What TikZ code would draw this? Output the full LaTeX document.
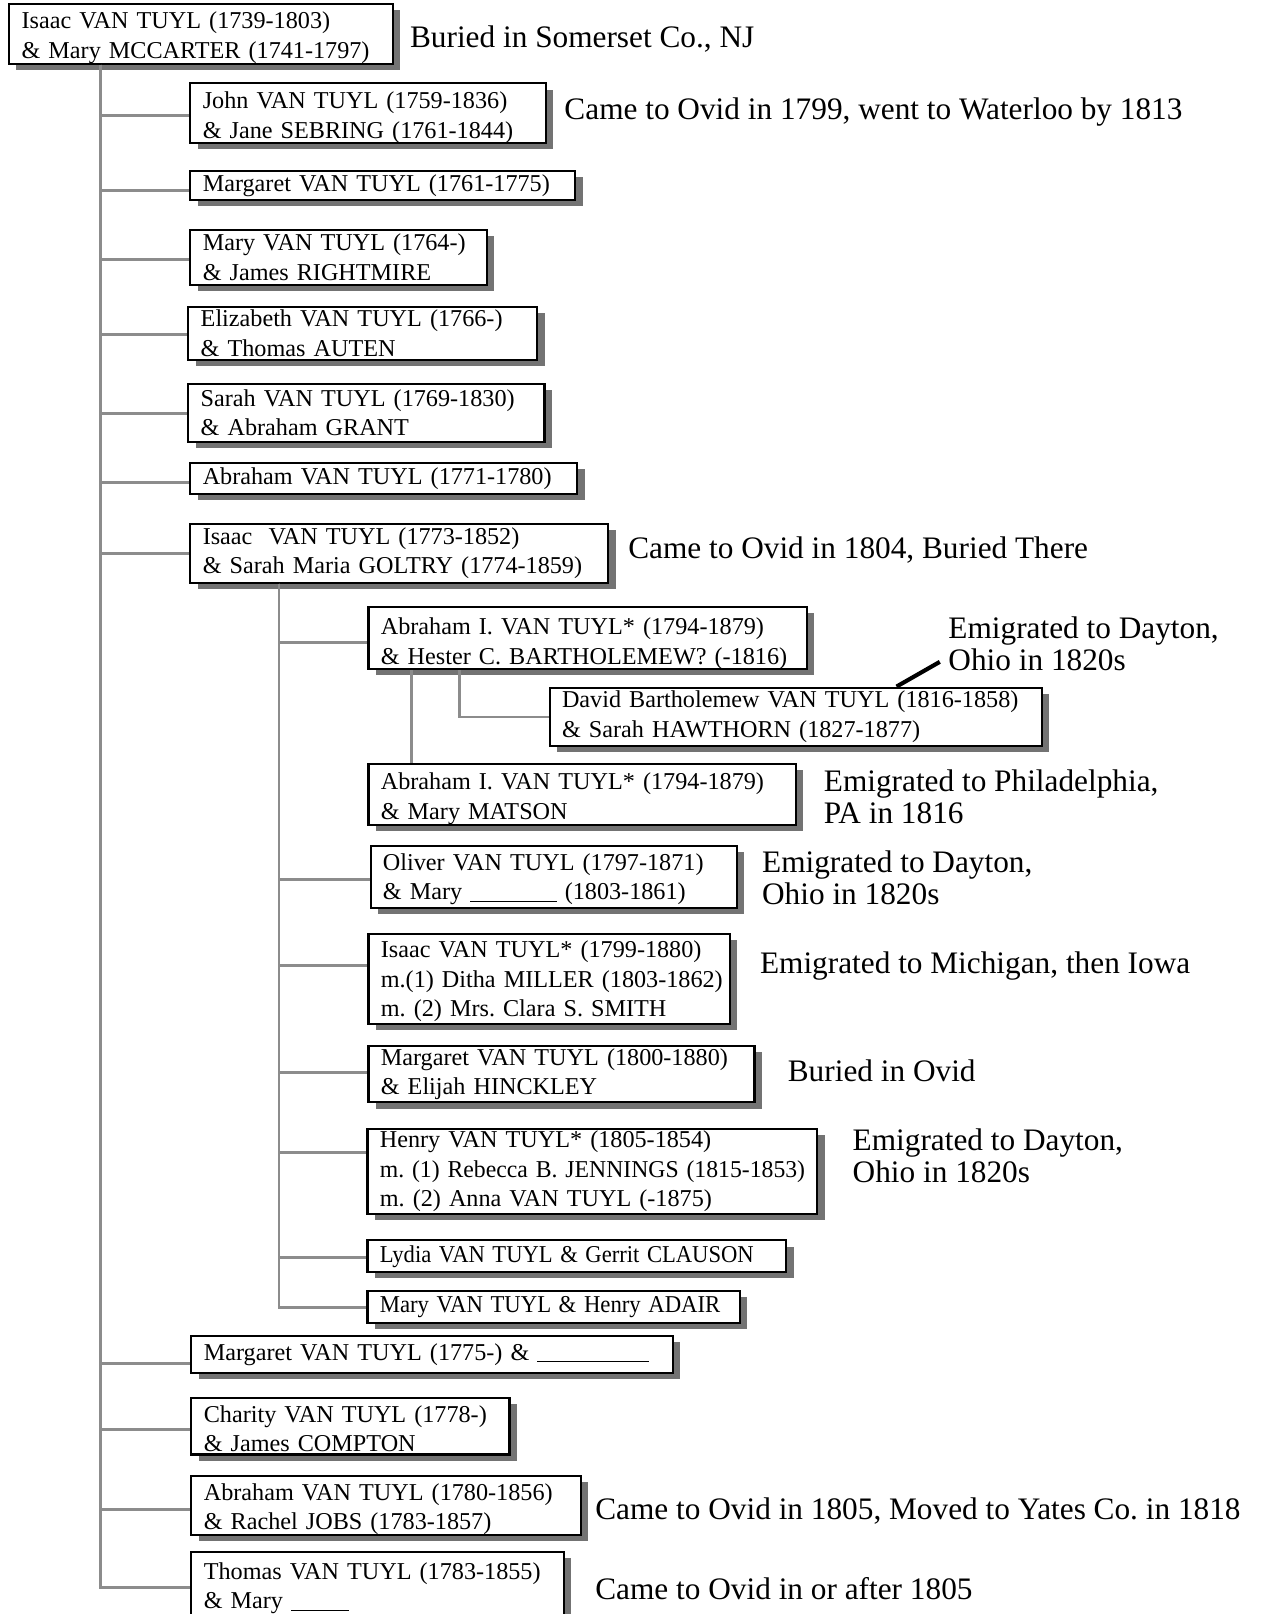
\documentclass[tikz,border=0pt]{standalone}
\usepackage{fontspec}
\usepackage{graphicx}
\setmainfont{Liberation Serif}
\usetikzlibrary{shadows}
\begin{document}
\frenchspacing
\begin{tikzpicture}[x=0.5pt,y=-0.5pt,
 box/.style={draw=black,line width=1pt,fill=white,anchor=north west,inner xsep=6pt,inner ysep=0pt,align=left,
   font=\fontsize{11.75}{14.4}\selectfont,
   drop shadow={shadow xshift=3.5pt,shadow yshift=-3pt,fill=black!55,opacity=1}},
 tshift/.style={execute at begin node={\rule{0pt}{#1}}},
 conn/.style={draw=black!45,line width=1.4pt},
 lab/.style={anchor=west,inner sep=0pt,align=left,font=\fontsize{15.2}{15.5}\selectfont},
 pointer/.style={draw=black,line width=2pt}]
\useasboundingbox (0,0) rectangle (1225,1568);
\fill[white] (0,0) rectangle (1225,1568);
\clip (0,0) rectangle (1225,1568);

% boxes
\node[box,tshift=11.7pt,text width=174.5pt,minimum height=29pt] (root) at (8,3) {\mbox{Isaac VAN TUYL (1739-1803)}\\\mbox{\& Mary MCCARTER (1741-1797)}};
\node[box,tshift=12.2pt,text width=160.5pt,minimum height=28.5pt] (john) at (184,80) {\mbox{John VAN TUYL (1759-1836)}\\\mbox{\& Jane SEBRING (1761-1844)}};
\node[box,text width=175pt,minimum height=14pt] (m1761) at (184,165) {\mbox{Margaret VAN TUYL (1761-1775)}};
\node[box,text width=132pt,minimum height=27pt] (m1764) at (184,222) {\mbox{Mary VAN TUYL (1764-)}\\\mbox{\& James RIGHTMIRE}};
\node[box,text width=157.5pt,minimum height=26pt] (eliz) at (182,297) {\mbox{Elizabeth VAN TUYL (1766-)}\\\mbox{\& Thomas AUTEN}};
\node[box,text width=161pt,minimum height=28pt] (sarah) at (182,372) {\mbox{Sarah VAN TUYL (1769-1830)}\\\mbox{\& Abraham GRANT}};
\node[box,text width=176pt,minimum height=15pt] (a1771) at (184,449) {\mbox{Abraham VAN TUYL (1771-1780)}};
\node[box,text width=191pt,minimum height=28.5pt] (i1773) at (184,508) {\mbox{Isaac\ \ VAN TUYL (1773-1852)}\\\mbox{\& Sarah Maria GOLTRY (1774-1859)}};
\node[box,tshift=13.2pt,text width=201pt,minimum height=29pt] (hester) at (357,589) {\mbox{Abraham I. VAN TUYL* (1794-1879)}\\\mbox{\& Hester C. BARTHOLEMEW? (-1816)}};
\node[box,text width=227pt,minimum height=28.5pt] (david) at (533,667) {\mbox{David Bartholemew VAN TUYL (1816-1858)}\\\mbox{\& Sarah HAWTHORN (1827-1877)}};
\node[box,tshift=12.7pt,text width=195.5pt,minimum height=27pt] (matson) at (357,741) {\mbox{Abraham I. VAN TUYL* (1794-1879)}\\\mbox{\& Mary MATSON}};
\node[box,tshift=10.2pt,text width=166pt,minimum height=30pt] (oliver) at (359,821) {\mbox{Oliver VAN TUYL (1797-1871)}\\\mbox{\& Mary \rule[-1pt]{42pt}{0.6pt} (1803-1861)}};
\node[box,tshift=10.7pt,text width=163.5pt,minimum height=44pt] (i1799) at (357,906) {\mbox{Isaac VAN TUYL* (1799-1880)}\\\mbox{m.(1) Ditha MILLER (1803-1862)}\\\mbox{m. (2) Mrs. Clara S. SMITH}};
\node[box,text width=175.5pt,minimum height=27.5pt] (m1800) at (357,1015) {\mbox{Margaret VAN TUYL (1800-1880)}\\\mbox{\& Elijah HINCKLEY}};
\node[box,text width=206.5pt,minimum height=41pt] (henry) at (356,1096) {\mbox{Henry VAN TUYL* (1805-1854)}\\\mbox{\scalebox{0.98}[1]{m. (1) Rebecca B. JENNINGS (1815-1853)}}\\\mbox{m. (2) Anna VAN TUYL (-1875)}};
\node[box,text width=191.5pt,minimum height=15.5pt] (lydia) at (356,1204) {\mbox{\scalebox{0.935}[1]{Lydia VAN TUYL \& Gerrit CLAUSON}}};
\node[box,text width=169pt,minimum height=15.5pt] (adair) at (356,1253) {\mbox{\scalebox{0.94}[1]{Mary VAN TUYL \& Henry ADAIR}}};
\node[box,text width=222pt,minimum height=18pt] (m1775) at (185,1297) {\mbox{Margaret VAN TUYL (1775-) \& \rule[-1pt]{54pt}{0.6pt}}};
\node[box,tshift=10.7pt,text width=142.5pt,minimum height=27.5pt] (charity) at (185,1357) {\mbox{Charity VAN TUYL (1778-)}\\\mbox{\& James COMPTON}};
\node[box,tshift=11.7pt,text width=177pt,minimum height=28pt] (a1780) at (185,1433) {\mbox{Abraham VAN TUYL (1780-1856)}\\\mbox{\& Rachel JOBS (1783-1857)}};
\node[box,text width=169pt,minimum height=35pt] (thomas) at (185,1507) {\mbox{Thomas VAN TUYL (1783-1855)}\\\mbox{\& Mary \rule[-1pt]{28pt}{0.6pt}}};

% connectors
\coordinate (tk) at (98,0);
\coordinate (tk2) at (271,0);
\coordinate (tk3) at (400,0);
\coordinate (tk4) at (446,0);
\foreach \n/\s in {john/-1.25pt,m1761/-2.5pt,m1764/-1pt,eliz/-0.5pt,sarah/-0.5pt,a1771/-2pt,i1773/0pt,m1775/-4.5pt,charity/-1.75pt,a1780/-2pt,thomas/0.5pt}
  \draw[conn] (root.south -| tk) |- ([yshift=\s]\n.west);
\foreach \n/\s in {hester/-2pt,oliver/-1pt,i1799/6.5pt,m1800/0.75pt,henry/9pt,lydia/-0.75pt,adair/-0.5pt}
  \draw[conn] (i1773.south -| tk2) |- ([yshift=\s]\n.west);
\draw[conn] (hester.south -| tk3) -- (matson.north -| tk3);
\draw[conn] (hester.south -| tk4) |- (david.west);

% labels
\node[lab] (l0) at (398,38) {Buried in Somerset Co., NJ};
\node[lab] (l1) at (548,109) {Came to Ovid in 1799, went to Waterloo by 1813};
\node[lab] (l2) at (610,534) {Came to Ovid in 1804, Buried There};
\node[lab] (l3) at (921,625) {Emigrated to Dayton,\\Ohio in 1820s};
\node[lab] (l4) at (800,774) {Emigrated to Philadelphia,\\PA in 1816};
\node[lab] (l5) at (740,853) {Emigrated to Dayton,\\Ohio in 1820s};
\node[lab] (l6) at (738,938) {Emigrated to Michigan, then Iowa};
\node[lab] (l7) at (765,1040) {Buried in Ovid};
\node[lab] (l8) at (828,1123) {Emigrated to Dayton,\\Ohio in 1820s};
\node[lab] (l9) at (578,1468) {Came to Ovid in 1805, Moved to Yates Co. in 1818};
\node[lab] (l10) at (578,1543) {Came to Ovid in or after 1805};

% pointer
\coordinate (pa) at (871,668);
\coordinate (pb) at (913,643);
\draw[pointer] (david.north -| pa) -- (pb);
\end{tikzpicture}
\end{document}
